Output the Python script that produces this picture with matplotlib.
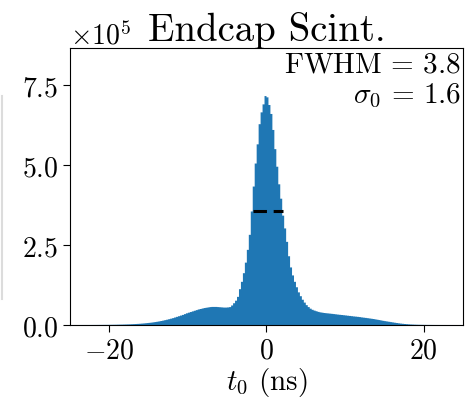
import numpy as np
import matplotlib
matplotlib.use('Agg')
import matplotlib.pyplot as plt
from matplotlib.lines import Line2D

# Computer Modern look for everything
plt.rcParams['font.family'] = 'serif'
plt.rcParams['font.serif'] = ['cmr10']
plt.rcParams['mathtext.fontset'] = 'cm'
plt.rcParams['axes.formatter.use_mathtext'] = True

# t0 histogram, 0.25 ns bins from -25 to 25 ns, counts in thousands
bin_edges = np.arange(-25.0, 25.0 + 0.125, 0.25)

counts_left = [
    0.02, 0.03, 0.03, 0.04, 0.05, 0.06, 0.07, 0.08, 0.09, 0.1, 0.12, 0.15, 0.18, 0.2, 0.25, 0.3,
    0.35, 0.4, 0.45, 0.5,
    0.6, 0.7, 0.8, 0.9,
    1.1, 1.2, 1.3, 1.5,
    1.7, 1.9, 2.1, 2.4,
    2.7, 3.0, 3.4, 3.8,
    4.3, 4.8, 5.4, 6.0,
    6.7, 7.4, 8.3, 9.2,
    10.2, 11.3, 12.5, 13.8,
    15.2, 16.6, 18.2, 19.8,
    21.5, 23.5, 25.5, 27.5,
    29.5, 31.5, 34.0, 36.5,
    38.5, 40.5, 42.5, 44.5,
    46.5, 48.5, 50.0, 51.5,
    53.0, 54.0, 55.0, 56.0,
    56.5, 56.5, 56.5, 56.0,
    55.5, 55.0, 54.5, 54.5,
]
counts_core = [
    55, 56, 61, 68, 76, 88, 112, 135, 162, 195,
    235, 282, 355, 433, 505, 565, 628, 665, 690, 716,
    712, 688, 660, 610, 550, 495, 440, 395, 342, 302,
    260, 215, 180, 155, 135, 118, 102, 90, 79, 70,
]
counts_right = [
    62, 56, 51, 47.5, 45, 43, 41, 39.5, 38.5, 37.5,
    36.8, 36.2, 35.5, 34.8, 34.1, 33.3, 32.5, 31.8, 31.2, 30.5,
    29.8, 29.0, 28.3, 27.6, 26.8, 26.2, 25.5, 24.8, 23.8, 23.0,
    22.2, 21.4, 20.5, 19.6, 18.7, 17.6, 16.5, 15.4, 14.2, 13.0,
    12.0, 11.0, 10.0, 9.0, 8.0, 7.0, 6.1, 5.2, 4.4, 3.7,
    3.1, 2.6, 2.1, 1.7, 1.4, 1.1, 0.9, 0.7, 0.6, 0.5,
    0.4, 0.3, 0.25, 0.2,
    0.15, 0.12, 0.1, 0.08, 0.06, 0.05, 0.04, 0.03, 0.03, 0.02, 0.02, 0.01, 0.01, 0.01, 0.01, 0.01,
]
counts = np.array(counts_left + counts_core + counts_right) * 1e3

fwhm = 3.8
fwhm_lo = -1.75
sigma0 = 1.6
title = 'Endcap Scint.'

fig = plt.figure(figsize=(4.65, 4.10), dpi=100)
ax = fig.add_axes([0.1505, 0.2049, 0.8452, 0.6756])

# one filled step outline for the whole histogram
ax.fill_between(bin_edges, np.append(counts, counts[-1]), step='post',
                facecolor='#1f77b4', edgecolor='none', lw=0, snap=False)

half_max = counts.max() / 2
ax.plot([fwhm_lo, fwhm_lo + fwhm], [half_max, half_max], color='black',
        lw=2.2, linestyle=(0, (4.4, 2.2)))

ax.set_xlim(-25, 25)
ax.set_ylim(0, 1.21 * counts.max())
ax.set_xticks([-20, 0, 20])
ax.set_yticks([0, 2.5e5, 5e5, 7.5e5])
ax.ticklabel_format(axis='y', style='sci', scilimits=(0, 0))
ax.tick_params(labelsize=20, length=5)
ax.yaxis.get_offset_text().set_fontsize(20)

ax.set_xlabel(r'$t_0$ (ns)', fontsize=21, labelpad=1)
ax.set_title(title, fontsize=28, pad=5)

ax.text(0.995, 0.99,
        r'$\mathrm{FWHM} \,=\, %.1f$' % fwhm + '\n' + r'$\sigma_0 \,=\, %.1f$' % sigma0,
        transform=ax.transAxes, ha='right', va='top', fontsize=21, linespacing=1.15)

# faint edge of the neighbouring panel
fig.add_artist(Line2D([0.004, 0.004], [0.268, 0.763], transform=fig.transFigure,
                      color='#dcdcdc', lw=1.5))

fig.savefig('out.png', dpi=100)
